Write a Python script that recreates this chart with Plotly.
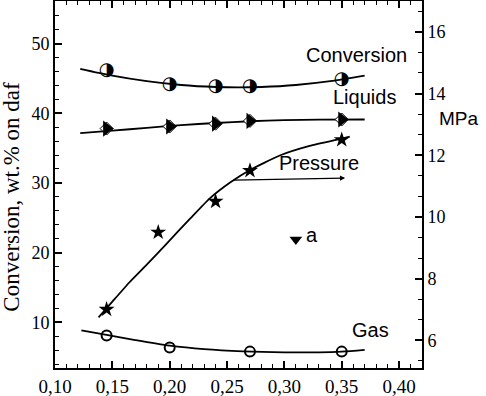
import plotly.graph_objects as go

# ---- data ----
x_pts = [0.145, 0.20, 0.24, 0.27, 0.35]
conversion = [46.1, 44.1, 43.8, 43.8, 44.8]
liquids = [37.8, 38.1, 38.5, 38.9, 39.1]
pressure_x = [0.145, 0.19, 0.24, 0.27, 0.35]
pressure = [7.0, 9.5, 10.5, 11.5, 12.5]          # MPa, right axis
gas_x = [0.145, 0.20, 0.27, 0.35]
gas = [8.1, 6.4, 5.8, 5.8]
point_a_x = [0.31]
point_a_y = [21.9]

# fitted curves
conv_fit_x = [0.122, 0.15, 0.18, 0.21, 0.24, 0.26, 0.28, 0.31, 0.34, 0.37]
conv_fit_y = [46.37, 45.39, 44.60, 44.05, 43.76, 43.70, 43.76, 44.05, 44.60, 45.39]
liq_fit_x = [0.122, 0.15, 0.18, 0.21, 0.24, 0.27, 0.30, 0.33, 0.37]
liq_fit_y = [37.15, 37.5, 37.9, 38.3, 38.6, 38.85, 39.0, 39.07, 39.1]
pres_fit_x = [0.138, 0.15, 0.165, 0.18, 0.197, 0.218, 0.235, 0.253, 0.27, 0.296, 0.322, 0.349, 0.357]
pres_fit_y = [6.74, 7.25, 7.88, 8.45, 9.12, 9.95, 10.6, 11.12, 11.52, 11.99, 12.3, 12.53, 12.6]
gas_fit_x = [0.123, 0.145, 0.17, 0.20, 0.23, 0.264, 0.30, 0.33, 0.35, 0.37]
gas_fit_y = [8.85, 8.2, 7.45, 6.65, 6.15, 5.84, 5.7, 5.7, 5.8, 6.05]

x_ticks = [0.10, 0.15, 0.20, 0.25, 0.30, 0.35, 0.40]
x_tick_text = ["0,10", "0,15", "0,20", "0,25", "0,30", "0,35", "0,40"]
y_ticks = [10, 20, 30, 40, 50]
y2_ticks = [6, 8, 10, 12, 14, 16]

SERIF = "Liberation Serif"
SANS = "Liberation Sans"
LW = 1.8

fig = go.Figure()

# curves
fig.add_trace(go.Scatter(x=conv_fit_x, y=conv_fit_y, mode="lines",
                         line=dict(color="black", width=LW, shape="spline", smoothing=0.8)))
fig.add_trace(go.Scatter(x=liq_fit_x, y=liq_fit_y, mode="lines",
                         line=dict(color="black", width=LW, shape="spline", smoothing=0.8)))
fig.add_trace(go.Scatter(x=gas_fit_x, y=gas_fit_y, mode="lines",
                         line=dict(color="black", width=LW, shape="spline", smoothing=0.8)))
fig.add_trace(go.Scatter(x=pres_fit_x, y=pres_fit_y, mode="lines", yaxis="y2",
                         line=dict(color="black", width=LW, shape="spline", smoothing=0.5)))

# markers
fig.add_trace(go.Scatter(x=x_pts, y=conversion, mode="text", text=["◑"] * len(x_pts),
                         textposition="middle center",
                         textfont=dict(family="DejaVu Sans", size=18, color="black")))
fig.add_trace(go.Scatter(x=x_pts, y=liquids, mode="markers",
                         marker=dict(symbol="diamond", size=10, color="white",
                                     line=dict(color="black", width=1))))
fig.add_trace(go.Scatter(x=x_pts, y=liquids, mode="markers",
                         marker=dict(symbol="triangle-right", size=14, color="black",
                                     line=dict(width=0))))
fig.add_trace(go.Scatter(x=gas_x, y=gas, mode="markers",
                         marker=dict(symbol="circle-open", size=10, color="black",
                                     line=dict(color="black", width=2))))
fig.add_trace(go.Scatter(x=pressure_x, y=pressure, mode="markers", yaxis="y2",
                         marker=dict(symbol="star", size=12, color="black", line=dict(width=0))))
fig.add_trace(go.Scatter(x=point_a_x, y=point_a_y, mode="markers",
                         marker=dict(symbol="triangle-down", size=11, color="black", line=dict(width=0))))

ann_font = dict(family=SANS, size=20, color="black")
annotations = [
    dict(x=0.3633, y=48.3, xref="x", yref="y", text="Conversion", showarrow=False, font=ann_font),
    dict(x=0.370, y=42.3, xref="x", yref="y", text="Liquids", showarrow=False, font=ann_font),
    dict(x=0.330, y=32.8, xref="x", yref="y", text="Pressure", showarrow=False, font=ann_font),
    dict(x=0.3747, y=8.85, xref="x", yref="y", text="Gas", showarrow=False, font=ann_font),
    dict(x=0.324, y=22.6, xref="x", yref="y", text="a", showarrow=False, font=ann_font),
    dict(x=0.353, y=11.26, xref="x", yref="y2", ax=0.2543, ay=11.19, axref="x", ayref="y2",
         text="", showarrow=True, arrowhead=2, arrowsize=0.8, arrowwidth=1.3, arrowcolor="black"),
    dict(x=1.101, y=0.681, xref="paper", yref="paper", xanchor="center", yanchor="middle",
         text="MPa", showarrow=False, font=dict(family=SANS, size=19, color="black")),
    dict(x=-0.118, y=0.466, xref="paper", yref="paper", xanchor="center", yanchor="middle",
         text="Conversion, wt.% on daf", textangle=-90, showarrow=False,
         font=dict(family=SERIF, size=23, color="black")),
]

fig.update_layout(
    width=486, height=396,
    margin=dict(l=55, r=64, t=1, b=28),
    paper_bgcolor="white", plot_bgcolor="white",
    showlegend=False,
    annotations=annotations,
    xaxis=dict(range=[0.10, 0.42], tickvals=x_ticks, ticktext=x_tick_text,
               ticks="inside", ticklen=7, tickwidth=1.5, tickcolor="black",
               minor=dict(dtick=0.01, tick0=0.10, ticks="inside", ticklen=4, tickcolor="black", tickwidth=1.3),
               showline=True, linecolor="black", linewidth=2, mirror="ticks",
               showgrid=False, zeroline=False, automargin=False,
               tickfont=dict(family=SERIF, size=19, color="black")),
    yaxis=dict(range=[3.45, 56.1], tickvals=y_ticks,
               ticks="inside", ticklen=7, tickwidth=1.5, tickcolor="black",
               minor=dict(dtick=2, tick0=0, ticks="inside", ticklen=4, tickcolor="black", tickwidth=1.3),
               showline=True, linecolor="black", linewidth=2,
               showgrid=False, zeroline=False, automargin=False,
               tickfont=dict(family=SERIF, size=18, color="black")),
    yaxis2=dict(range=[5.1, 17.0], tickvals=y2_ticks, overlaying="y", side="right",
                ticks="inside", ticklen=7, tickwidth=1.5, tickcolor="black",
                minor=dict(dtick=2/3, tick0=6, ticks="inside", ticklen=4, tickcolor="black", tickwidth=1.3),
                showline=True, linecolor="black", linewidth=2,
                showgrid=False, zeroline=False, automargin=False,
                tickfont=dict(family=SERIF, size=18, color="black")),
)

fig.write_html("out.html", config={"displayModeBar": False},
               post_script="document.body.style.margin='0px';")
